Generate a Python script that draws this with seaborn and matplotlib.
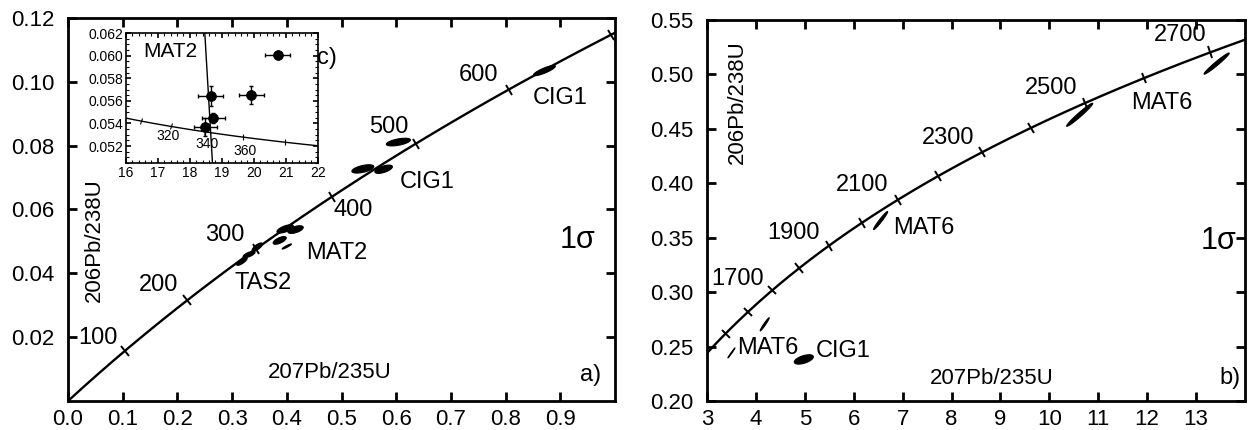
import numpy as np
import matplotlib
matplotlib.use("Agg")
import matplotlib.pyplot as plt
import seaborn as sns
from matplotlib.markers import MarkerStyle
from matplotlib.transforms import Affine2D
from matplotlib.ticker import FixedLocator, AutoMinorLocator

sns.set_theme(style="ticks")
plt.rcParams['font.family'] = ['Liberation Sans', 'DejaVu Sans']
plt.rcParams['text.color'] = 'black'
plt.rcParams['axes.labelcolor'] = 'black'
plt.rcParams['xtick.color'] = 'black'
plt.rcParams['ytick.color'] = 'black'

# ---------------- data ----------------
LAMBDA_238 = 1.55125e-10
LAMBDA_235 = 9.8485e-10
U_RATIO = 137.88

ages_a = [100, 200, 300, 400, 500, 600, 700]
age_labels_a = ["100", "200", "300", "400", "500", "600"]
age_label_x_a = [0.055, 0.165, 0.287, 0.522, 0.586, 0.750]
age_label_y_a = [0.0198, 0.0363, 0.0520, 0.0598, 0.0858, 0.1021]

# ellipses panel a: centre x, centre y, sigma x, sigma y, rho
ell_a_x = [0.871, 0.604, 0.539, 0.577, 0.397, 0.416, 0.387, 0.400, 0.331, 0.318, 0.346]
ell_a_y = [0.1035, 0.0811, 0.0727, 0.0726, 0.0539, 0.0537, 0.0503, 0.0484, 0.0459, 0.0437, 0.0482]
ell_a_sx = [0.020, 0.022, 0.0200, 0.0160, 0.0150, 0.0140, 0.0120, 0.0085, 0.011, 0.0095, 0.0095]
ell_a_sy = [0.0016, 0.0012, 0.00130, 0.00130, 0.00130, 0.0012, 0.0012, 0.0008, 0.0010, 0.0012, 0.00130]
ell_a_rho = [0.85, 0.55, 0.55, 0.60, 0.65, 0.55, 0.65, 0.93, 0.70, 0.80, 0.75]

sample_labels_a = ["CIG1", "CIG1", "MAT2", "TAS2"]
sample_x_a = [0.900, 0.657, 0.492, 0.357]
sample_y_a = [0.0949, 0.0686, 0.0463, 0.0370]

ages_b = [1500, 1600, 1700, 1800, 1900, 2000, 2100, 2200, 2300, 2400, 2500, 2600, 2700]
age_labels_b = ["1700", "1900", "2100", "2300", "2500", "2700"]
age_label_x_b = [3.62, 4.77, 6.18, 7.93, 10.04, 12.67]
age_label_y_b = [0.312, 0.354, 0.398, 0.442, 0.488, 0.536]

ell_b_x = [6.55, 4.18, 3.50, 4.98, 10.62, 13.42]
ell_b_y = [0.3658, 0.2705, 0.2442, 0.2382, 0.4630, 0.5100]
ell_b_sx = [0.144, 0.092, 0.072, 0.195, 0.267, 0.257]
ell_b_sy = [0.0083, 0.0060, 0.0046, 0.0043, 0.0106, 0.0097]
ell_b_rho = [0.97, 0.97, 0.99, 0.55, 0.975, 0.975]

sample_labels_b = ["MAT6", "MAT6", "MAT6", "CIG1"]
sample_x_b = [7.44, 12.30, 4.25, 5.79]
sample_y_b = [0.359, 0.474, 0.249, 0.246]

# inset (Tera-Wasserburg) data
inset_x = [20.75, 18.66, 19.92, 18.74, 18.48]
inset_y = [0.06006, 0.0564, 0.05655, 0.05446, 0.05366]
inset_xerr = [0.39, 0.39, 0.39, 0.36, 0.36]
inset_yerr = [0.0002, 0.0009, 0.0008, 0.00045, 0.0008]
inset_ages = [300, 320, 340, 360, 380]
inset_age_labels = ["320", "340", "360"]
inset_label_x = [17.33, 18.53, 19.73]
inset_label_y = [0.0529, 0.0522, 0.0516]
mat2_line_x = [18.47, 18.71]
mat2_line_y = [0.062, 0.0505]


def wetherill(t):
    t = np.asarray(t, dtype=float) * 1e6
    return np.exp(LAMBDA_235 * t) - 1, np.exp(LAMBDA_238 * t) - 1


def slope_w(t):
    t = np.asarray(t, dtype=float) * 1e6
    return LAMBDA_235 * np.exp(LAMBDA_235 * t), LAMBDA_238 * np.exp(LAMBDA_238 * t)


def tw(t):
    x7, x6 = wetherill(t)
    return 1.0 / x6, x7 / x6 / U_RATIO


def ellipse_pts(cx, cy, sx, sy, rho, n=120):
    th = np.linspace(0, 2 * np.pi, n)
    ex = cx + sx * np.cos(th)
    ey = cy + sy * (rho * np.cos(th) + np.sqrt(1 - rho ** 2) * np.sin(th))
    return ex, ey


def perp_ticks(ax, xs, ys, dxs, dys, size, lw):
    xl, yl = ax.get_xlim(), ax.get_ylim()
    kx = ax.bbox.width / (xl[1] - xl[0])
    ky = ax.bbox.height / (yl[1] - yl[0])
    for x, y, dx, dy in zip(xs, ys, dxs, dys):
        ang = np.degrees(np.arctan2(dy * ky, dx * kx))
        m = MarkerStyle('|', transform=Affine2D().rotate_deg(ang))
        ax.plot([x], [y], marker=m, color='black', markersize=size,
                markeredgewidth=lw, linestyle='none', clip_on=False)


def style_axes(ax, lw=2.0, labelsize=16, tl=6.5, pad=6):
    for s in ax.spines.values():
        s.set_linewidth(lw)
        s.set_color('black')
        s.set_visible(True)
    ax.tick_params(direction='in', top=True, right=True, length=tl, width=lw,
                   labelsize=labelsize, colors='black', pad=pad)
    ax.set_facecolor('white')
    ax.grid(False)


fig = plt.figure(figsize=(12.5, 4.3), dpi=100)
fig.patch.set_facecolor('white')

# ---------------- panel a ----------------
axa = fig.add_axes([0.0544, 0.0674, 0.4376, 0.891])
axa.set_xlim(0, 1.0)
axa.set_ylim(0, 0.12)
style_axes(axa)
axa.xaxis.set_major_locator(FixedLocator([0.0, 0.1, 0.2, 0.3, 0.4, 0.5, 0.6, 0.7, 0.8, 0.9]))
axa.set_xticklabels(["0.0", "0.1", "0.2", "0.3", "0.4", "0.5", "0.6", "0.7", "0.8", "0.9"])
axa.yaxis.set_major_locator(FixedLocator([0.02, 0.04, 0.06, 0.08, 0.10, 0.12]))
axa.set_yticklabels(["0.02", "0.04", "0.06", "0.08", "0.10", "0.12"])
axa.tick_params(axis='y', pad=10)

t_a = np.linspace(0, 720, 400)
cx_a, cy_a = wetherill(t_a)
sns.lineplot(x=cx_a, y=cy_a, ax=axa, color='black', linewidth=1.7, sort=False, estimator=None)
tx, ty = wetherill(ages_a)
dx, dy = slope_w(ages_a)
perp_ticks(axa, tx, ty, dx, dy, 8.5, 1.4)

for cx, cy, sx, sy, r in zip(ell_a_x, ell_a_y, ell_a_sx, ell_a_sy, ell_a_rho):
    ex, ey = ellipse_pts(cx, cy, sx, sy, r)
    axa.fill(ex, ey, color='black', lw=0.8)

for lab, x, y in zip(age_labels_a, age_label_x_a, age_label_y_a):
    axa.text(x, y, lab, fontsize=17, ha='center', va='center')
for lab, x, y in zip(sample_labels_a, sample_x_a, sample_y_a):
    axa.text(x, y, lab, fontsize=17, ha='center', va='center')
axa.text(0.931, 0.0504, "1σ", fontsize=22, ha='center', va='center')
axa.text(0.479, 0.0088, "207Pb/235U", fontsize=16, ha='center', va='center')
axa.text(0.955, 0.0081, "a)", fontsize=17, ha='center', va='center')
axa.text(0.0476, 0.0504, "206Pb/238U", fontsize=16, ha='center', va='center', rotation=90)
axa.text(0.474, 0.1075, "c)", fontsize=17, ha='center', va='center')

# ---------------- inset ----------------
axc = fig.add_axes([0.1006, 0.6209, 0.1536, 0.3023])
axc.set_xlim(16, 22)
axc.set_ylim(0.0505, 0.062)
style_axes(axc, lw=1.2, labelsize=10, tl=3.5, pad=2)
axc.xaxis.set_major_locator(FixedLocator([16, 17, 18, 19, 20, 21, 22]))
axc.yaxis.set_major_locator(FixedLocator([0.052, 0.054, 0.056, 0.058, 0.060, 0.062]))
axc.set_yticklabels(["0.052", "0.054", "0.056", "0.058", "0.060", "0.062"])
axc.xaxis.set_minor_locator(AutoMinorLocator(5))
axc.yaxis.set_minor_locator(AutoMinorLocator(4))
axc.tick_params(which='minor', direction='in', top=True, right=True, length=2, width=0.8)

t_c = np.linspace(270, 400, 300)
tcx, tcy = tw(t_c)
sns.lineplot(x=tcx, y=tcy, ax=axc, color='black', linewidth=1.0, sort=False, estimator=None)
itx, ity = tw(inset_ages)
d7, d6 = slope_w(inset_ages)
x7, x6 = wetherill(inset_ages)
dtx = -d6 / x6 ** 2
dty = (d7 * x6 - x7 * d6) / x6 ** 2 / U_RATIO
perp_ticks(axc, itx, ity, dtx, dty, 5, 0.8)
sns.lineplot(x=mat2_line_x, y=mat2_line_y, ax=axc, color='black', linewidth=1.0, sort=False, estimator=None)
axc.errorbar(inset_x, inset_y, xerr=inset_xerr, yerr=inset_yerr, fmt='none',
             ecolor='black', elinewidth=1.0, capsize=1.5, capthick=1.0)
sns.scatterplot(x=inset_x, y=inset_y, ax=axc, color='black', s=50, edgecolor='black', zorder=5)
for lab, x, y in zip(inset_age_labels, inset_label_x, inset_label_y):
    axc.text(x, y, lab, fontsize=10, ha='center', va='center')
axc.text(17.39, 0.0604, "MAT2", fontsize=15, ha='center', va='center')

# ---------------- panel b ----------------
axb = fig.add_axes([0.5656, 0.0674, 0.4304, 0.886])
axb.set_xlim(3, 14)
axb.set_ylim(0.20, 0.55)
style_axes(axb)
axb.xaxis.set_major_locator(FixedLocator(list(range(3, 14))))
axb.yaxis.set_major_locator(FixedLocator([0.20, 0.25, 0.30, 0.35, 0.40, 0.45, 0.50, 0.55]))
axb.set_yticklabels(["0.20", "0.25", "0.30", "0.35", "0.40", "0.45", "0.50", "0.55"])
axb.tick_params(axis='y', pad=10)

t_b = np.linspace(1350, 2850, 500)
bx, by = wetherill(t_b)
sns.lineplot(x=bx, y=by, ax=axb, color='black', linewidth=1.7, sort=False, estimator=None)
tx, ty = wetherill(ages_b)
dx, dy = slope_w(ages_b)
perp_ticks(axb, tx, ty, dx, dy, 8.5, 1.4)

for cx, cy, sx, sy, r in zip(ell_b_x, ell_b_y, ell_b_sx, ell_b_sy, ell_b_rho):
    ex, ey = ellipse_pts(cx, cy, sx, sy, r)
    axb.fill(ex, ey, color='black', lw=0.8)

for lab, x, y in zip(age_labels_b, age_label_x_b, age_label_y_b):
    axb.text(x, y, lab, fontsize=17, ha='center', va='center')
for lab, x, y in zip(sample_labels_b, sample_x_b, sample_y_b):
    axb.text(x, y, lab, fontsize=17, ha='center', va='center')
axb.text(13.46, 0.347, "1σ", fontsize=22, ha='center', va='center')
axb.text(8.83, 0.221, "207Pb/235U", fontsize=16, ha='center', va='center')
axb.text(13.70, 0.221, "b)", fontsize=17, ha='center', va='center')
axb.text(3.62, 0.4745, "206Pb/238U", fontsize=16, ha='center', va='center', rotation=90)

fig.savefig("out.png", dpi=100, facecolor='white')
